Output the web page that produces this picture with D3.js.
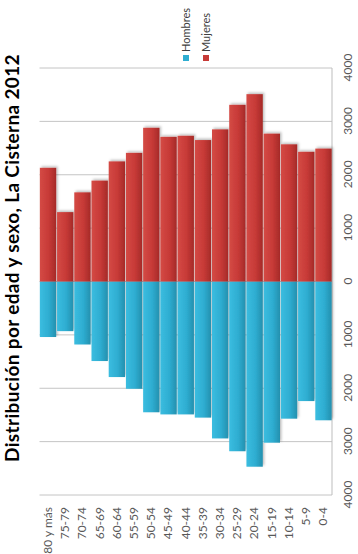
<!DOCTYPE html>
<html>
<head>
<meta charset="utf-8">
<script src="https://cdn.jsdelivr.net/npm/d3@7"></script>
<style>
  html, body { margin: 0; padding: 0; background: #fff; }
  svg { display: block; }
  text { font-family: Lato, "Open Sans", sans-serif; }
</style>
</head>
<body>
<svg id="chart" width="358" height="554"></svg>
<script>
const categories = ["80 y más","75-79","70-74","65-69","60-64","55-59","50-54","45-49","40-44","35-39","30-34","25-29","20-24","15-19","10-14","5-9","0-4"];
const hombres = [1040, 930, 1180, 1490, 1790, 2010, 2450, 2490, 2490, 2550, 2940, 3180, 3470, 3020, 2570, 2240, 2600];
const mujeres = [2130, 1300, 1670, 1890, 2250, 2410, 2880, 2710, 2730, 2650, 2850, 3310, 3510, 2770, 2570, 2430, 2490];
const tickValues = [-4000, -3000, -2000, -1000, 0, 1000, 2000, 3000, 4000];
const tickLabels = ["4000", "3000", "2000", "1000", "0", "1000", "2000", "3000", "4000"];
const seriesNames = ["Hombres", "Mujeres"];
const title = "Distribución por edad y sexo, La Cisterna 2012";

const svg = d3.select("#chart");
const defs = svg.append("defs");

function grad(id, c0, c1, c2) {
  const g = defs.append("linearGradient").attr("id", id)
    .attr("x1", 0).attr("y1", 0).attr("x2", 0).attr("y2", 1);
  g.append("stop").attr("offset", "0%").attr("stop-color", c0);
  g.append("stop").attr("offset", "55%").attr("stop-color", c1);
  g.append("stop").attr("offset", "100%").attr("stop-color", c2);
}
grad("gRed", "#d44a45", "#c73a37", "#a52a28");
grad("gBlue", "#3bbde0", "#2eadd1", "#2490ae");

const f = defs.append("filter").attr("id", "sh").attr("x", "-10%").attr("y", "-10%").attr("width", "130%").attr("height", "130%");
f.append("feDropShadow").attr("dx", 1.5).attr("dy", 1.5).attr("stdDeviation", 0.8)
  .attr("flood-color", "#000").attr("flood-opacity", 0.25);

// Frame is rotated -90deg: frame width 554, height 358
const g = svg.append("g").attr("transform", "translate(0,554) rotate(-90)");

const x = d3.scaleLinear().domain([-4000, 4000]).range([59, 486]);
const y = d3.scaleBand().domain(categories).range([39.5, 332]).paddingInner(0.05).paddingOuter(0.02);

// gridlines
g.append("g").selectAll("line").data(tickValues).join("line")
  .attr("x1", d => x(d)).attr("x2", d => x(d))
  .attr("y1", 39.5).attr("y2", 332)
  .attr("stroke", "#c4c4c4").attr("stroke-width", 1);

// axis line (bottom of frame)
g.append("line").attr("x1", 59).attr("x2", 486).attr("y1", 332).attr("y2", 332)
  .attr("stroke", "#bdbdbd").attr("stroke-width", 1);

// bars
const bars = g.append("g").attr("filter", "url(#sh)");
bars.selectAll("rect.h").data(categories).join("rect").attr("class", "h")
  .attr("x", (d, i) => x(-hombres[i]))
  .attr("width", (d, i) => x(0) - x(-hombres[i]))
  .attr("y", d => y(d)).attr("height", y.bandwidth())
  .attr("fill", "url(#gBlue)");
bars.selectAll("rect.m").data(categories).join("rect").attr("class", "m")
  .attr("x", x(0))
  .attr("width", (d, i) => x(mujeres[i]) - x(0))
  .attr("y", d => y(d)).attr("height", y.bandwidth())
  .attr("fill", "url(#gRed)");

// value axis labels
const xAxis = d3.axisBottom(x).tickValues(tickValues).tickFormat((d, i) => tickLabels[i]).tickSize(0).tickPadding(0);
const ax = g.append("g").attr("transform", "translate(0,343)").call(xAxis);
ax.select(".domain").remove();
ax.selectAll("text").attr("fill", "#595959").attr("font-size", 12).attr("dy", "0.71em");

// category axis labels
const yAxis = d3.axisLeft(y).tickSize(0).tickPadding(0);
const ay = g.append("g").attr("transform", "translate(47,0)").call(yAxis);
ay.select(".domain").remove();
ay.selectAll("text").attr("fill", "#595959").attr("font-size", 12);

// title
g.append("text").attr("x", 296).attr("y", 19)
  .attr("text-anchor", "middle").attr("font-weight", "bold").attr("font-size", 19)
  .attr("letter-spacing", 0.35)
  .attr("fill", "#000").text(title);

// legend
const colors = ["#2eadd1", "#c73a37"];
const leg = g.append("g");
seriesNames.forEach((n, i) => {
  const vy = 186 + i * 20;
  leg.append("rect").attr("x", 493).attr("y", vy - 3).attr("width", 6).attr("height", 6).attr("fill", colors[i]);
  leg.append("text").attr("x", 502).attr("y", vy + 4).attr("font-size", 11).attr("fill", "#404040").text(n);
});
</script>
</body>
</html>
